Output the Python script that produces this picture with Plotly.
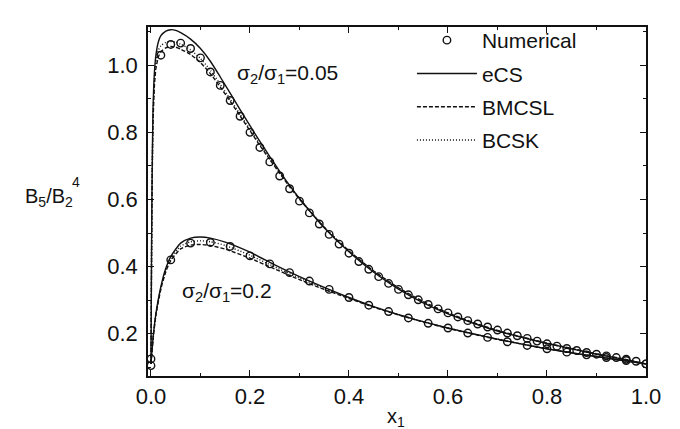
import plotly.graph_objects as go

# ---------------- data ----------------
# sigma2/sigma1 = 0.05
x_num_a = [0.0, 0.02, 0.04, 0.06, 0.08, 0.10, 0.12, 0.14, 0.16, 0.18, 0.20, 0.22, 0.24, 0.26, 0.28,
           0.30, 0.32, 0.34, 0.36, 0.38, 0.40, 0.42, 0.44, 0.46, 0.48, 0.50, 0.52, 0.54, 0.56, 0.58,
           0.60, 0.62, 0.64, 0.66, 0.68, 0.70, 0.72, 0.74, 0.76, 0.78, 0.80, 0.82, 0.84, 0.86, 0.88,
           0.90, 0.92, 0.94, 0.96, 0.98, 1.00]
y_num_a = [0.125, 1.03, 1.062, 1.066, 1.05, 1.022, 0.98, 0.94, 0.895, 0.848, 0.80, 0.755, 0.712, 0.67, 0.632,
           0.595, 0.56, 0.527, 0.496, 0.467, 0.44, 0.415, 0.392, 0.37, 0.35, 0.332, 0.316, 0.301, 0.287, 0.274,
           0.262, 0.25, 0.239, 0.229, 0.22, 0.211, 0.202, 0.194, 0.186, 0.178, 0.17, 0.163, 0.156, 0.15, 0.144,
           0.139, 0.134, 0.129, 0.124, 0.118, 0.11]

x_th_a = [0.0, 0.001, 0.002, 0.004, 0.007, 0.01, 0.015, 0.02, 0.03, 0.04, 0.05, 0.06, 0.08, 0.10, 0.12,
          0.14, 0.16, 0.18, 0.20, 0.22, 0.24, 0.26, 0.28, 0.30, 0.35, 0.40, 0.45, 0.50, 0.55, 0.60,
          0.65, 0.70, 0.75, 0.80, 0.85, 0.90, 0.95, 1.0]
y_ecs_a = [0.11, 0.40, 0.62, 0.86, 0.98, 1.03, 1.07, 1.088, 1.102, 1.106, 1.104, 1.097, 1.078, 1.05, 1.012,
           0.965, 0.917, 0.868, 0.82, 0.773, 0.728, 0.684, 0.642, 0.603, 0.516, 0.444, 0.383, 0.333, 0.292, 0.259,
           0.232, 0.208, 0.189, 0.171, 0.155, 0.139, 0.125, 0.11]
y_bmcsl_a = [0.11, 0.38, 0.59, 0.82, 0.94, 0.99, 1.025, 1.04, 1.052, 1.056, 1.054, 1.048, 1.032, 1.008, 0.975,
             0.935, 0.893, 0.849, 0.805, 0.761, 0.719, 0.678, 0.638, 0.601, 0.517, 0.447, 0.387, 0.337, 0.296, 0.262,
             0.234, 0.210, 0.190, 0.172, 0.156, 0.140, 0.126, 0.11]
y_bcsk_a = [0.11, 0.39, 0.60, 0.84, 0.96, 1.01, 1.045, 1.058, 1.068, 1.071, 1.069, 1.063, 1.046, 1.02, 0.985,
            0.943, 0.899, 0.854, 0.809, 0.765, 0.722, 0.681, 0.641, 0.603, 0.518, 0.446, 0.386, 0.336, 0.295, 0.261,
            0.233, 0.209, 0.189, 0.171, 0.155, 0.140, 0.125, 0.11]

# sigma2/sigma1 = 0.2
x_num_b = [0.0, 0.04, 0.08, 0.12, 0.16, 0.20, 0.24, 0.28, 0.32, 0.36, 0.40, 0.44, 0.48, 0.52, 0.56,
           0.60, 0.64, 0.68, 0.72, 0.76, 0.80, 0.84, 0.88, 0.92, 0.96, 1.00]
y_num_b = [0.105, 0.42, 0.47, 0.472, 0.46, 0.432, 0.408, 0.382, 0.357, 0.332, 0.308, 0.285, 0.266, 0.247, 0.231,
           0.217, 0.202, 0.189, 0.176, 0.165, 0.155, 0.145, 0.137, 0.129, 0.12, 0.11]

x_th_b = [0.0, 0.005, 0.01, 0.02, 0.03, 0.04, 0.06, 0.08, 0.10, 0.12, 0.15, 0.20, 0.25, 0.30, 0.35,
          0.40, 0.45, 0.50, 0.55, 0.60, 0.65, 0.70, 0.75, 0.80, 0.85, 0.90, 0.95, 1.0]
y_ecs_b = [0.11, 0.20, 0.26, 0.34, 0.395, 0.43, 0.47, 0.485, 0.488, 0.485, 0.473, 0.443, 0.405, 0.37, 0.338,
           0.308, 0.281, 0.257, 0.236, 0.217, 0.20, 0.184, 0.169, 0.155, 0.143, 0.132, 0.121, 0.11]
y_bmcsl_b = [0.11, 0.195, 0.255, 0.333, 0.385, 0.418, 0.453, 0.464, 0.466, 0.463, 0.452, 0.425, 0.393, 0.361, 0.332,
             0.305, 0.279, 0.256, 0.235, 0.216, 0.199, 0.183, 0.169, 0.155, 0.143, 0.132, 0.121, 0.11]
y_bcsk_b = [0.11, 0.198, 0.258, 0.337, 0.39, 0.424, 0.461, 0.474, 0.477, 0.474, 0.463, 0.434, 0.399, 0.366, 0.335,
            0.307, 0.280, 0.257, 0.236, 0.217, 0.200, 0.184, 0.169, 0.155, 0.143, 0.132, 0.121, 0.11]

x_tick_vals = [0.0, 0.2, 0.4, 0.6, 0.8, 1.0]
y_tick_vals = [0.2, 0.4, 0.6, 0.8, 1.0]

label_a = "σ<sub>2</sub>/σ<sub>1</sub>=0.05"
label_b = "σ<sub>2</sub>/σ<sub>1</sub>=0.2"

FONT = "Liberation Sans, Arial, Helvetica, sans-serif"
BLACK = "#111111"

fig = go.Figure()

line_styles = [("eCS", "solid", y_ecs_a, y_ecs_b),
               ("BMCSL", "4px,2px", y_bmcsl_a, y_bmcsl_b),
               ("BCSK", "1px,2px", y_bcsk_a, y_bcsk_b)]

mk = dict(symbol="circle-open", size=7.5, color=BLACK, line=dict(width=1.4))
fig.add_trace(go.Scatter(x=x_num_a, y=y_num_a, mode="markers", name="Numerical",
                         legendgroup="g0", marker=mk))
fig.add_trace(go.Scatter(x=x_num_b, y=y_num_b, mode="markers", name="Numerical", showlegend=False,
                         legendgroup="g0", marker=mk))

for i, (nm, dash, ya, yb) in enumerate(line_styles):
    ln = dict(color=BLACK, width=1.4, dash=dash, shape="spline", smoothing=0.6)
    fig.add_trace(go.Scatter(x=x_th_a, y=ya, mode="lines", name=nm, legendgroup="g%d" % (i + 1), line=ln))
    fig.add_trace(go.Scatter(x=x_th_b, y=yb, mode="lines", name=nm, showlegend=False,
                             legendgroup="g%d" % (i + 1), line=ln))

axis_common = dict(
    showgrid=False, zeroline=False, showline=True, linecolor=BLACK, linewidth=1.6,
    mirror="ticks", ticks="inside", ticklen=6, tickwidth=1.3, tickcolor=BLACK,
    tickfont=dict(family=FONT, size=22, color=BLACK), tickformat=".1f",
)

fig.update_xaxes(range=[-0.006, 1.0], tickvals=x_tick_vals,
                 minor=dict(tickvals=[0.1, 0.3, 0.5, 0.7, 0.9], ticks="inside", ticklen=3,
                            tickwidth=1.1, tickcolor=BLACK),
                 **axis_common)
fig.update_yaxes(range=[0.074, 1.114], tickvals=y_tick_vals, ticklabelstandoff=4,
                 minor=dict(tickvals=[0.1, 0.3, 0.5, 0.7, 0.9, 1.1], ticks="inside", ticklen=3,
                            tickwidth=1.1, tickcolor=BLACK),
                 **axis_common)

fig.update_layout(
    width=680, height=429,
    margin=dict(l=140, r=42, t=14, b=61),
    paper_bgcolor="white", plot_bgcolor="white",
    font=dict(family=FONT, color=BLACK),
    showlegend=True,
    legend=dict(x=0.53, y=1.02, xanchor="left", yanchor="top", bgcolor="rgba(0,0,0,0)",
                font=dict(family=FONT, size=21, color=BLACK), itemwidth=60,
                traceorder="grouped", tracegroupgap=3),
    annotations=[
        dict(x=0.17, y=0.975, xref="x", yref="y", text=label_a, showarrow=False,
             xanchor="left", yanchor="middle", font=dict(family=FONT, size=21, color=BLACK)),
        dict(x=0.059, y=0.325, xref="x", yref="y", text=label_b, showarrow=False,
             xanchor="left", yanchor="middle", font=dict(family=FONT, size=21, color=BLACK)),
        dict(x=(388 - 140) / 498, y=(368 - 395) / 354, xref="paper", yref="paper", text="x<sub>1</sub>",
             showarrow=False, xanchor="center", yanchor="top",
             font=dict(family=FONT, size=20, color=BLACK)),
        dict(x=(15 - 140) / 498, y=(368 - 187) / 354, xref="paper", yref="paper",
             text="B<sub>5</sub>/B<sub>2</sub>", showarrow=False, xanchor="left", yanchor="middle",
             font=dict(family=FONT, size=20, color=BLACK)),
        dict(x=(68 - 140) / 498, y=(368 - 171) / 354, xref="paper", yref="paper",
             text="4", showarrow=False, xanchor="center", yanchor="middle",
             font=dict(family=FONT, size=14, color=BLACK)),
    ],
)

fig.write_html("out.html")
